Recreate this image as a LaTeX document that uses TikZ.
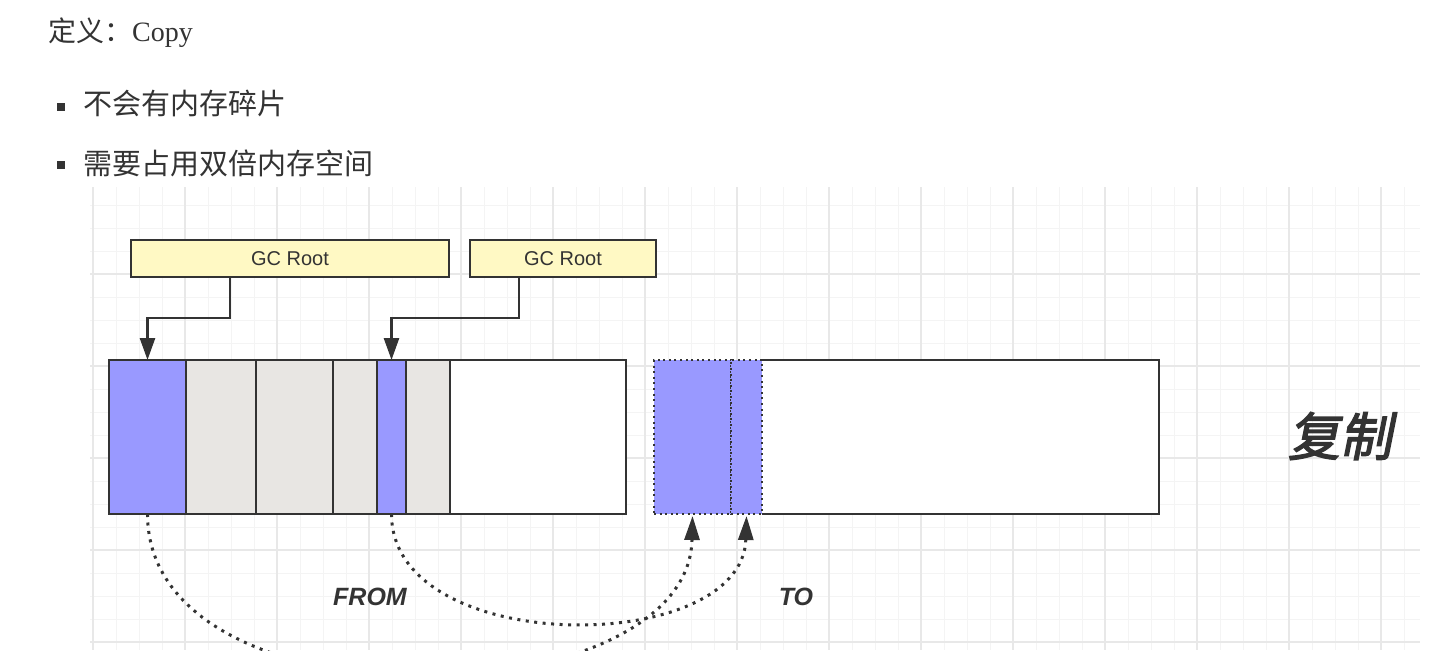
\documentclass[tikz,border=0pt]{standalone}
\usepackage{fontspec}
\setmainfont{Liberation Serif}
\setsansfont{Liberation Sans}
\newfontfamily\cjk{Noto Sans CJK SC}
\newfontfamily\cjkslant{Noto Sans CJK SC}[FakeSlant=0.2,FakeBold=2.5]
\usetikzlibrary{arrows.meta,calc}
\definecolor{inkc}{HTML}{333333}
\definecolor{livec}{HTML}{9999FF}
\definecolor{deadc}{HTML}{E8E6E3}
\definecolor{rootc}{HTML}{FFF9C4}
\definecolor{gridminor}{HTML}{F4F4F4}
\definecolor{gridmajor}{HTML}{E8E8E8}

\tikzset{
  cell/.style={draw=inkc, line width=2.8pt, anchor=north west, inner sep=0pt, outer sep=0pt,
    minimum height=154pt},
  copied/.style={fill=livec, draw=inkc, line width=2pt, dash pattern=on 2pt off 3.6pt,
    anchor=north west, inner sep=0pt, outer sep=0pt, minimum height=154pt},
  rootbox/.style={draw=inkc, fill=rootc, line width=2.6pt, minimum height=37pt, inner sep=0pt,
    outer sep=0pt, font=\sffamily\fontsize{20}{22}\selectfont, text=inkc},
  rootarr/.style={draw=inkc, line width=2.7pt, -{Triangle[length=22pt,width=15pt]}},
  copyarr/.style={draw=inkc, line width=3pt, dash pattern=on 3pt off 5.5pt,
    -{Triangle[length=24pt,width=15pt]}},
  bullet/.style={fill=inkc, inner sep=0pt, minimum size=8pt},
  itemtext/.style={anchor=base west, inner sep=0pt, text=inkc, font=\cjk\fontsize{29}{32}\selectfont},
  space/.style={font=\sffamily\bfseries\itshape\fontsize{25}{28}\selectfont, text=inkc}
}

\begin{document}
\begin{tikzpicture}[x=1pt, y=-1pt]
    \useasboundingbox (0,0) rectangle (1439,650);

    % grid paper
    \foreach \gx in {93,116,...,1416} \draw[gridminor, line width=1pt] (\gx,187) -- (\gx,650);
    \foreach \gy in {205,228,...,642} \draw[gridminor, line width=1pt] (90,\gy) -- (1420,\gy);
    \foreach \gx in {93,185,...,1416} \draw[gridmajor, line width=1.4pt] (\gx,187) -- (\gx,650);
    \foreach \gy in {274,366,...,642} \draw[gridmajor, line width=1.4pt] (90,\gy) -- (1420,\gy);

    % heading and items
    \node[anchor=base west, inner sep=0pt, text=inkc] (title) at (48,42)
        {\fontsize{28}{30}\selectfont{\cjk 定义：}Copy};
    \node[bullet] (b1) at (61,107) {};
    \node[itemtext] (item1) at (83,115) {不会有内存碎片};
    \node[bullet] (b2) at (61,165) {};
    \node[itemtext] (item2) at (83,174) {需要占用双倍内存空间};

    % roots
    \node[rootbox, minimum width=318pt] (gc1) at (290,258.5) {GC Root};
    \node[rootbox, minimum width=186pt] (gc2) at (563,258.5) {GC Root};

    % from space
    \node[cell, fill=livec, minimum width=77pt] (from1) at (109,360) {};
    \node[cell, fill=deadc, minimum width=70pt] (from2) at (186,360) {};
    \node[cell, fill=deadc, minimum width=77pt] (from3) at (256,360) {};
    \node[cell, fill=deadc, minimum width=44pt] (from4) at (333,360) {};
    \node[cell, fill=livec, minimum width=29pt] (from5) at (377,360) {};
    \node[cell, fill=deadc, minimum width=44pt] (from6) at (406,360) {};
    \node[cell, fill=white, minimum width=176pt] (from7) at (450,360) {};

    % to space
    \node[cell, draw=none, fill=white, minimum width=397pt] (torest) at (762,360) {};
    \node[copied, minimum width=77pt] (to1) at (654,360) {};
    \node[copied, minimum width=31pt] (to2) at (731,360) {};
    \draw[inkc, line width=2.8pt] (to2.north east) -- (torest.north east)
        -- (torest.south east) -- (to2.south east);

    \draw[rootarr] ([xshift=-60pt]gc1.south) -- ++(0,41) -| (from1.north);
    \draw[rootarr] ([xshift=-44pt]gc2.south) -- ++(0,41) -| (from5.north);

    \draw[copyarr] (from1.south) .. controls +(0,220) and +(-4,203) .. ([yshift=-2pt]to1.south);
    \draw[copyarr] (from5.south) .. controls +(0,144) and +(-4,141) .. ([yshift=-2pt]to2.south);

    \node[space] (fromlbl) at (370,597) {FROM};
    \node[space] (tolbl) at (796,597) {TO};
    \node[text=inkc, font=\cjkslant\fontsize{52}{56}\selectfont] (copylbl) at (1340,436) {复制};
\end{tikzpicture}
\end{document}
